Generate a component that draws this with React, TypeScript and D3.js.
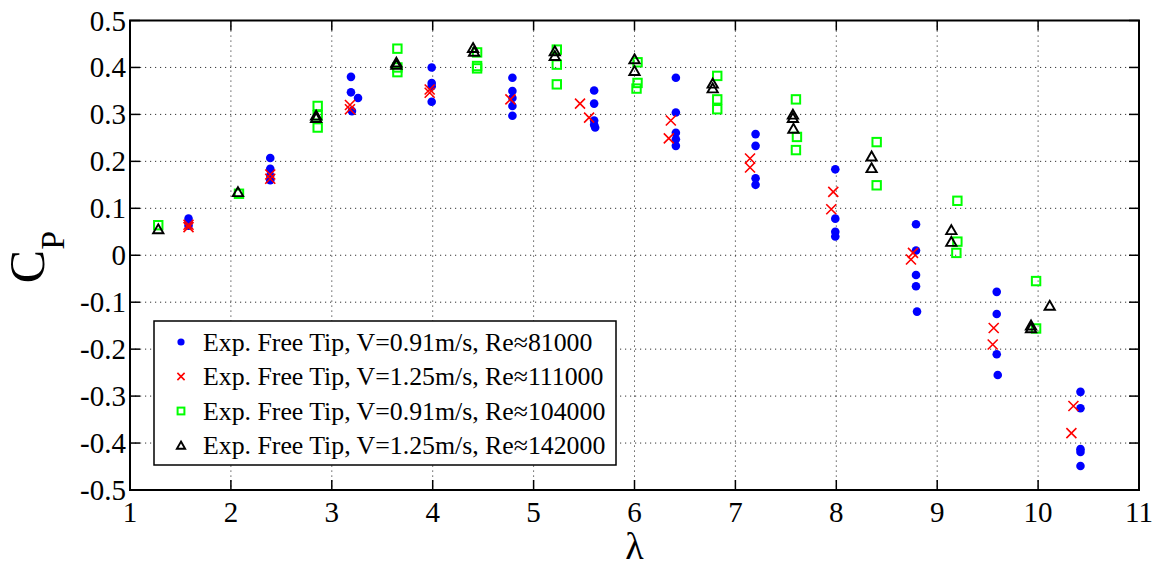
import React from 'react';
import * as d3 from 'd3';

const xTicks = [1, 2, 3, 4, 5, 6, 7, 8, 9, 10, 11];
const yTicks = [-0.5, -0.4, -0.3, -0.2, -0.1, 0, 0.1, 0.2, 0.3, 0.4, 0.5];
const yTickLabels = ['-0.5', '-0.4', '-0.3', '-0.2', '-0.1', '0', '0.1', '0.2', '0.3', '0.4', '0.5'];

const legendLabels = [
  'Exp. Free Tip, V=0.91m/s, Re\u224881000',
  'Exp. Free Tip, V=1.25m/s, Re\u2248111000',
  'Exp. Free Tip, V=0.91m/s, Re\u2248104000',
  'Exp. Free Tip, V=1.25m/s, Re\u2248142000',
];

// [lambda, Cp]
const blueRe81000: [number, number][] = [
  [1.58, 0.078], [1.58, 0.07], [1.58, 0.063],
  [2.39, 0.207], [2.39, 0.184], [2.39, 0.17], [2.39, 0.16],
  [3.19, 0.38], [3.19, 0.347], [3.26, 0.335], [3.2, 0.307],
  [3.99, 0.4], [3.99, 0.367], [3.99, 0.36], [3.99, 0.327],
  [4.79, 0.378], [4.79, 0.35], [4.79, 0.335], [4.79, 0.318], [4.79, 0.297],
  [5.6, 0.351], [5.6, 0.323], [5.6, 0.287], [5.6, 0.278], [5.61, 0.272],
  [6.41, 0.378], [6.41, 0.304], [6.41, 0.261], [6.41, 0.247], [6.41, 0.233],
  [7.2, 0.258], [7.2, 0.233], [7.2, 0.164], [7.2, 0.15],
  [7.99, 0.183], [7.99, 0.078], [7.99, 0.05], [7.99, 0.04],
  [8.79, 0.066], [8.79, 0.01], [8.79, -0.042], [8.79, -0.066], [8.8, -0.12],
  [9.59, -0.078], [9.59, -0.125], [9.59, -0.211], [9.6, -0.255],
  [10.42, -0.291], [10.42, -0.326], [10.42, -0.413], [10.42, -0.419], [10.42, -0.449],
];

const redRe111000: [number, number][] = [
  [1.58, 0.065], [1.58, 0.06],
  [2.39, 0.172], [2.39, 0.163],
  [3.18, 0.32], [3.18, 0.311],
  [3.97, 0.353], [3.97, 0.346],
  [4.77, 0.332],
  [5.46, 0.323], [5.55, 0.293],
  [6.36, 0.287], [6.34, 0.249],
  [7.145, 0.206], [7.145, 0.187],
  [7.97, 0.135], [7.95, 0.098],
  [8.76, 0.005], [8.74, -0.009],
  [9.56, -0.155], [9.55, -0.19],
  [10.35, -0.321], [10.33, -0.379],
];

const greenRe104000: [number, number][] = [
  [1.28, 0.064],
  [2.08, 0.131],
  [2.86, 0.318], [2.86, 0.298], [2.86, 0.272],
  [3.65, 0.44], [3.65, 0.4], [3.65, 0.39],
  [4.44, 0.432], [4.44, 0.403], [4.44, 0.398],
  [5.23, 0.438], [5.23, 0.406], [5.23, 0.364],
  [6.03, 0.411], [6.03, 0.367], [6.02, 0.355],
  [6.82, 0.382], [6.82, 0.332], [6.82, 0.311],
  [7.6, 0.332], [7.61, 0.252], [7.6, 0.224],
  [8.4, 0.241], [8.4, 0.149],
  [9.2, 0.116], [9.2, 0.029], [9.19, 0.005],
  [9.98, -0.055], [9.98, -0.156],
];

const blackRe142000: [number, number][] = [
  [1.28, 0.055],
  [2.07, 0.134],
  [2.845, 0.297], [2.845, 0.292],
  [3.64, 0.41], [3.64, 0.405],
  [4.4, 0.441], [4.41, 0.433],
  [5.21, 0.434], [5.21, 0.424],
  [6.0, 0.417], [6.0, 0.392],
  [6.775, 0.365], [6.775, 0.355],
  [7.57, 0.299], [7.57, 0.292], [7.575, 0.269],
  [8.35, 0.21], [8.35, 0.185],
  [9.14, 0.053], [9.14, 0.028],
  [9.93, -0.156], [9.93, -0.15],
  [10.115, -0.108],
];

const W = 1163;
const H = 566;
const left = 130;
const right = 1139;
const top = 20.5;
const bottom = 490;

const x = d3.scaleLinear().domain([1, 11]).range([left, right]);
const y = d3.scaleLinear().domain([-0.5, 0.5]).range([bottom, top]);

const serif = '"Liberation Serif", "Times New Roman", Times, "DejaVu Serif", serif';

const triPath = d3.symbol().type(d3.symbolTriangle).size(46)() as string;

function Dot({ cx, cy, r = 4.3 }: { cx: number; cy: number; r?: number }) {
  return <circle cx={cx} cy={cy} r={r} fill="#0000ff" />;
}
function Cross({ cx, cy, s = 5 }: { cx: number; cy: number; s?: number }) {
  return (
    <path
      d={`M${cx - s},${cy - s}L${cx + s},${cy + s}M${cx - s},${cy + s}L${cx + s},${cy - s}`}
      stroke="#ff0000"
      strokeWidth={1.6}
      fill="none"
    />
  );
}
function Square({ cx, cy, s = 4.2 }: { cx: number; cy: number; s?: number }) {
  return (
    <rect x={cx - s} y={cy - s} width={2 * s} height={2 * s} fill="none" stroke="#00ff00" strokeWidth={2} />
  );
}
function Tri({ cx, cy, k = 1 }: { cx: number; cy: number; k?: number }) {
  return (
    <path
      d={triPath}
      transform={`translate(${cx},${cy + 0.8}) scale(${k})`}
      fill="none"
      stroke="#000"
      strokeWidth={1.9 / k}
    />
  );
}

export default function App() {
  const legendRows = [342, 376.5, 411, 445.5];
  return (
    <div style={{ position: 'fixed', left: 0, top: 0, width: W, height: H, fontFamily: serif }}>
      <style>{`svg text { font-family: ${serif}; }`}</style>
      <svg width={W} height={H} style={{ display: 'block', background: '#fff' }}>
        <rect x={0} y={0} width={W} height={H} fill="#fff" />
        {/* grid */}
        <g stroke="#333" strokeWidth={1} strokeDasharray="1.2,3.8">
          {xTicks.slice(1, -1).map((t) => (
            <line key={'gx' + t} x1={x(t)} x2={x(t)} y1={top} y2={bottom} />
          ))}
          {yTicks.slice(1, -1).map((t) => (
            <line key={'gy' + t} x1={left} x2={right} y1={y(t)} y2={y(t)} />
          ))}
        </g>
        {/* data */}
        <g>
          {blueRe81000.map(([a, b], i) => (
            <Dot key={'b' + i} cx={x(a)} cy={y(b)} />
          ))}
          {redRe111000.map(([a, b], i) => (
            <Cross key={'r' + i} cx={x(a)} cy={y(b)} />
          ))}
          {greenRe104000.map(([a, b], i) => (
            <Square key={'g' + i} cx={x(a)} cy={y(b)} />
          ))}
          {blackRe142000.map(([a, b], i) => (
            <Tri key={'k' + i} cx={x(a)} cy={y(b)} />
          ))}
        </g>
        {/* ticks */}
        <g stroke="#000" strokeWidth={1.5}>
          {xTicks.map((t) => (
            <g key={'tx' + t}>
              <line x1={x(t)} x2={x(t)} y1={bottom} y2={bottom - 10} />
              <line x1={x(t)} x2={x(t)} y1={top} y2={top + 10} />
            </g>
          ))}
          {yTicks.map((t) => (
            <g key={'ty' + t}>
              <line x1={left} x2={left + 10} y1={y(t)} y2={y(t)} />
              <line x1={right} x2={right - 10} y1={y(t)} y2={y(t)} />
            </g>
          ))}
        </g>
        <rect x={left} y={top} width={right - left} height={bottom - top} fill="none" stroke="#000" strokeWidth={2} />
        {/* tick labels */}
        <g fontSize={29} fill="#000">
          {xTicks.map((t) => (
            <text key={'lx' + t} x={x(t)} y={bottom + 32} textAnchor="middle">
              {t}
            </text>
          ))}
          {yTicks.map((t, i) => (
            <text key={'ly' + t} x={left - 4} y={y(t) + 10} textAnchor="end">
              {yTickLabels[i]}
            </text>
          ))}
        </g>
        {/* axis labels */}
        <text x={x(6)} y={559} textAnchor="middle" fontSize={38} fill="#000">
          λ
        </text>
        <text transform={`translate(44,257) rotate(-90)`} textAnchor="middle" fill="#000">
          <tspan fontSize={50}>C</tspan>
          <tspan fontSize={34} dy={20}>
            P
          </tspan>
        </text>
        {/* legend */}
        <rect x={154} y={321} width={462} height={144} fill="#fff" stroke="#000" strokeWidth={1.5} />
        <Dot cx={181} cy={legendRows[0]} r={3.6} />
        <Cross cx={181} cy={legendRows[1]} s={3.6} />
        <Square cx={181} cy={legendRows[2]} s={3.4} />
        <Tri cx={181} cy={legendRows[3]} k={0.8} />
        <g fontSize={25.8} fill="#000">
          {legendLabels.map((l, i) => (
            <text key={'leg' + i} x={203} y={legendRows[i] + 8.5}>
              {l}
            </text>
          ))}
        </g>
      </svg>
    </div>
  );
}
